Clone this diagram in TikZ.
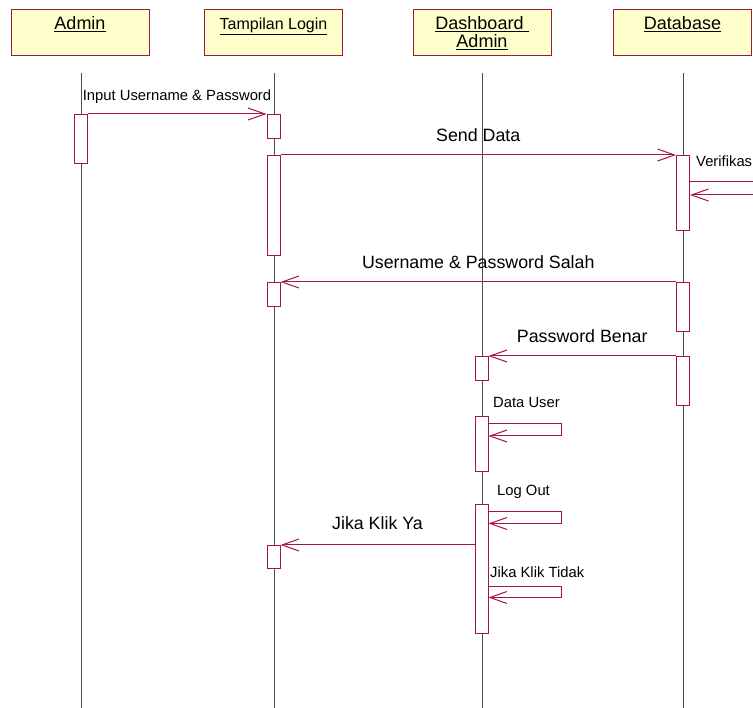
\documentclass[tikz,border=0pt]{standalone}
\usepackage{fontspec}
\setmainfont{Liberation Sans}
\usetikzlibrary{arrows.meta}

\definecolor{umlred}{RGB}{165,20,70}
\definecolor{umlyellow}{HTML}{FFFFCC}

\begin{document}
\begin{tikzpicture}[
            x=1pt, y=-1pt,
            obj/.style={rectangle, draw=umlred, fill=umlyellow, line width=1pt, minimum width=138pt, inner sep=0pt, text height=19.5pt, text depth=26.5pt, font=\fontsize{18}{18}\selectfont},
            lifeline/.style={draw=gray!60!black, line width=0.8pt},
            act/.style={rectangle, draw=umlred, fill=white, line width=1pt, minimum width=13pt, inner sep=0pt, anchor=north},
            msg/.style={draw=umlred, line width=1pt, -{Straight Barb[length=17pt, width=12pt, line width=1pt]}},
            biglabel/.style={anchor=base, yshift=13.5pt, inner sep=0pt, font=\fontsize{17.8}{17.8}\selectfont},
            smalllabel/.style={anchor=base west, inner sep=0pt, font=\fontsize{14.8}{14.8}\selectfont}
            ]
            \clip (0,0) rectangle (753,708);

            % Objects
            \node[obj] (admin) at (80,33) {\underline{Admin}};
            \node[obj, font=\fontsize{16}{16}\selectfont] (login) at (273.5,33) {\underline{Tampilan Login}};
            \node[obj] (dash) at (482,33) {\begin{tabular}[t]{@{}c@{}}\underline{Dashboard\ }\\\underline{Admin}\end{tabular}};
            \node[obj] (db) at (682.5,33) {\underline{Database}};

            % Lifelines
            \draw[lifeline] (81,73) -- (81,708);
            \draw[lifeline] (274,73) -- (274,708);
            \draw[lifeline] (482.5,73) -- (482.5,708);
            \draw[lifeline] (683,73) -- (683,708);

            % Activations
            \node[act, minimum height=49pt] (a1) at (80.5,114) {};
            \node[act, minimum height=24pt] (t1) at (273.5,114) {};
            \node[act, minimum height=100pt] (t2) at (273.5,155) {};
            \node[act, minimum height=75pt] (d1) at (683,155) {};
            \node[act, minimum height=24pt] (t3) at (273.5,282) {};
            \node[act, minimum height=49pt] (d2) at (683,282) {};
            \node[act, minimum height=24pt] (h1) at (481.5,356) {};
            \node[act, minimum height=49pt] (d3) at (683,356) {};
            \node[act, minimum height=55pt] (h2) at (481.5,416.5) {};
            \node[act, minimum height=129pt] (h3) at (481.5,504) {};
            \node[act, minimum height=23pt] (t4) at (273.5,545) {};

            % Messages
            \draw[msg] (a1.north east) -- node[biglabel, font=\fontsize{14.8}{14.8}\selectfont] {Input Username \& Password} (t1.north west);
            \draw[msg] (t2.north east) -- node[biglabel] {Send Data} (d1.north west);
            \draw[msg] (d1.east |- 0,182) -- ++(80,0) -- ++(0,13) -- (d1.east |- 0,195);
            \node[smalllabel] (verif) at (696,167) {Verifikas};
            \draw[msg] (d2.north west) -- node[biglabel] {Username \& Password Salah} (t3.north east);
            \draw[msg] (d3.north west) -- node[biglabel] {Password Benar} (h1.north east);
            \draw[msg] (h2.east |- 0,424) -- (561,424) -- (561,436) -- (h2.east |- 0,436);
            \node[smalllabel] (datauser) at (493,408) {Data User};
            \draw[msg] (h3.east |- 0,512) -- (561,512) -- (561,523.5) -- (h3.east |- 0,523.5);
            \node[smalllabel] (logout) at (497,496) {Log Out};
            \draw[msg] (t4.north east -| h3.west) -- node[biglabel, yshift=1.5pt] {Jika Klik Ya} (t4.north east);
            \draw[msg] (h3.east |- 0,586) -- (561,586) -- (561,597.5) -- (h3.east |- 0,597.5);
            \node[smalllabel] (tidak) at (490,577) {Jika Klik Tidak};

        \end{tikzpicture}
\end{document}
